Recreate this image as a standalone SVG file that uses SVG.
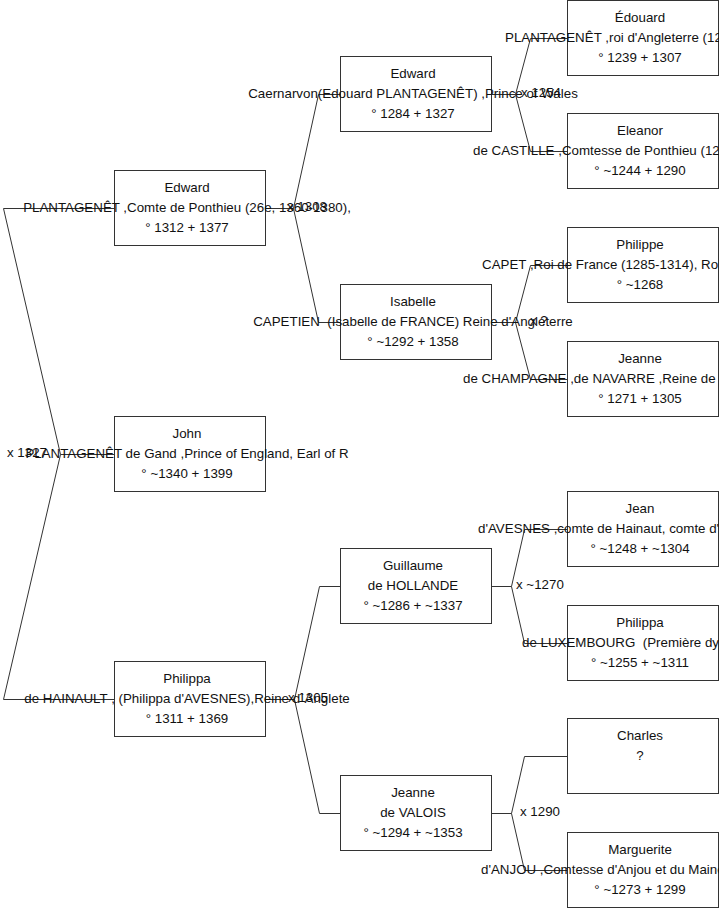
<svg xmlns="http://www.w3.org/2000/svg" width="719" height="908" viewBox="0 0 719 908">
<style>
.box{fill:#fff;stroke:#333;stroke-width:1}
.con{fill:none;stroke:#333;stroke-width:1}
text{font-family:"Liberation Sans",Arial,sans-serif;font-size:13.33px;fill:#111}
.c{text-anchor:middle}
.s{text-anchor:start}
</style>
<rect width="719" height="908" fill="#fff"/>
<g id="connectors">
<path class="con" d="M114,208.5 H3.5 L60.5,454.5 L3.5,699.5 H114 M60.5,454.5 H114"/>
<path class="con" d="M265.5,208.5 H293.5 M340,94.5 H318.5 L293.5,208.5 L318.5,322.5 H340"/>
<path class="con" d="M265.5,699.5 H294.5 M340,586.5 H319.5 L294.5,699.5 L319.5,813.5 H340"/>
<path class="con" d="M491.5,94.5 H515.5 M567,38.5 H530.5 L515.5,94.5 L530.5,151.5 H567"/>
<path class="con" d="M491.5,322.5 H515.5 M567,265.5 H530.5 L515.5,322.5 L530.5,379.5 H567"/>
<path class="con" d="M491.5,586.5 H511.5 M567,529.5 H524.5 L511.5,586.5 L524.5,643.5 H567"/>
<path class="con" d="M491.5,813.5 H511.5 M567,756.5 H524.5 L511.5,813.5 L524.5,870.5 H567"/>
<text class="s" x="7" y="456.5">x 1327</text>
<text class="s" x="287" y="210.5">x 1308</text>
<text class="s" x="288" y="701.5">x 1305</text>
<text class="s" x="521" y="96.5">x 1254</text>
<text class="s" x="530" y="324.5">x ?</text>
<text class="s" x="516" y="588.5">x ~1270</text>
<text class="s" x="520" y="815.5">x 1290</text>
</g>
<g id="n-edward1">
<rect class="box" x="114.5" y="170.5" width="151" height="75"/>
<text class="c" x="187" y="192">Edward</text>
<text class="c" x="187" y="212">PLANTAGENÊT ,Comte de Ponthieu (26e, 1360-1380),</text>
<text class="c" x="187" y="232">° 1312 + 1377</text>
</g>
<g id="n-john">
<rect class="box" x="114.5" y="416.5" width="151" height="75"/>
<text class="c" x="187" y="438">John</text>
<text class="c" x="187" y="458">PLANTAGENÊT de Gand ,Prince of England, Earl of R</text>
<text class="c" x="187" y="478">° ~1340 + 1399</text>
</g>
<g id="n-philippa1">
<rect class="box" x="114.5" y="661.5" width="151" height="75"/>
<text class="c" x="187" y="683">Philippa</text>
<text class="c" x="187" y="703">de HAINAULT , (Philippa d'AVESNES),Reine d`Anglete</text>
<text class="c" x="187" y="723">° 1311 + 1369</text>
</g>
<g id="n-edward2">
<rect class="box" x="340.5" y="56.5" width="151" height="75"/>
<text class="c" x="413" y="78">Edward</text>
<text class="c" x="413" y="98">Caernarvon(Edouard PLANTAGENÊT) ,Prince of Wales</text>
<text class="c" x="413" y="118">° 1284 + 1327</text>
</g>
<g id="n-isabelle">
<rect class="box" x="340.5" y="284.5" width="151" height="75"/>
<text class="c" x="413" y="306">Isabelle</text>
<text class="c" x="413" y="326" xml:space="preserve">CAPETIEN  (Isabelle de FRANCE) Reine d'Angleterre</text>
<text class="c" x="413" y="346">° ~1292 + 1358</text>
</g>
<g id="n-guillaume">
<rect class="box" x="340.5" y="548.5" width="151" height="75"/>
<text class="c" x="413" y="570">Guillaume</text>
<text class="c" x="413" y="590">de HOLLANDE</text>
<text class="c" x="413" y="610">° ~1286 + ~1337</text>
</g>
<g id="n-jeanne2">
<rect class="box" x="340.5" y="775.5" width="151" height="75"/>
<text class="c" x="413" y="797">Jeanne</text>
<text class="c" x="413" y="817">de VALOIS</text>
<text class="c" x="413" y="837">° ~1294 + ~1353</text>
</g>
<g id="n-edouard">
<rect class="box" x="567.5" y="0.5" width="151" height="75"/>
<text class="c" x="640" y="22">Édouard</text>
<text class="s" x="505" y="42">PLANTAGENÊT ,roi d'Angleterre (12</text>
<text class="c" x="640" y="62">° 1239 + 1307</text>
</g>
<g id="n-eleanor">
<rect class="box" x="567.5" y="113.5" width="151" height="75"/>
<text class="c" x="640" y="135">Eleanor</text>
<text class="s" x="473" y="155">de CASTILLE ,Comtesse de Ponthieu (12</text>
<text class="c" x="640" y="175">° ~1244 + 1290</text>
</g>
<g id="n-philippe">
<rect class="box" x="567.5" y="227.5" width="151" height="75"/>
<text class="c" x="640" y="249">Philippe</text>
<text class="s" x="482" y="269">CAPET ,Roi de France (1285-1314), Ro</text>
<text class="c" x="640" y="289">° ~1268</text>
</g>
<g id="n-jeanne3">
<rect class="box" x="567.5" y="341.5" width="151" height="75"/>
<text class="c" x="640" y="363">Jeanne</text>
<text class="s" x="463" y="383">de CHAMPAGNE ,de NAVARRE ,Reine de</text>
<text class="c" x="640" y="403">° 1271 + 1305</text>
</g>
<g id="n-jean">
<rect class="box" x="567.5" y="491.5" width="151" height="75"/>
<text class="c" x="640" y="513">Jean</text>
<text class="s" x="478" y="533">d'AVESNES ,comte de Hainaut, comte d'</text>
<text class="c" x="640" y="553">° ~1248 + ~1304</text>
</g>
<g id="n-philippa3">
<rect class="box" x="567.5" y="605.5" width="151" height="75"/>
<text class="c" x="640" y="627">Philippa</text>
<text class="s" x="522" y="647" xml:space="preserve">de LUXEMBOURG  (Première dy</text>
<text class="c" x="640" y="667">° ~1255 + ~1311</text>
</g>
<g id="n-charles">
<rect class="box" x="567.5" y="718.5" width="151" height="75"/>
<text class="c" x="640" y="740">Charles</text>
<text class="c" x="640" y="760">?</text>
</g>
<g id="n-marguerite">
<rect class="box" x="567.5" y="832.5" width="151" height="75"/>
<text class="c" x="640" y="854">Marguerite</text>
<text class="s" x="481" y="874">d'ANJOU ,Comtesse d'Anjou et du Maine</text>
<text class="c" x="640" y="894">° ~1273 + 1299</text>
</g>
</svg>
